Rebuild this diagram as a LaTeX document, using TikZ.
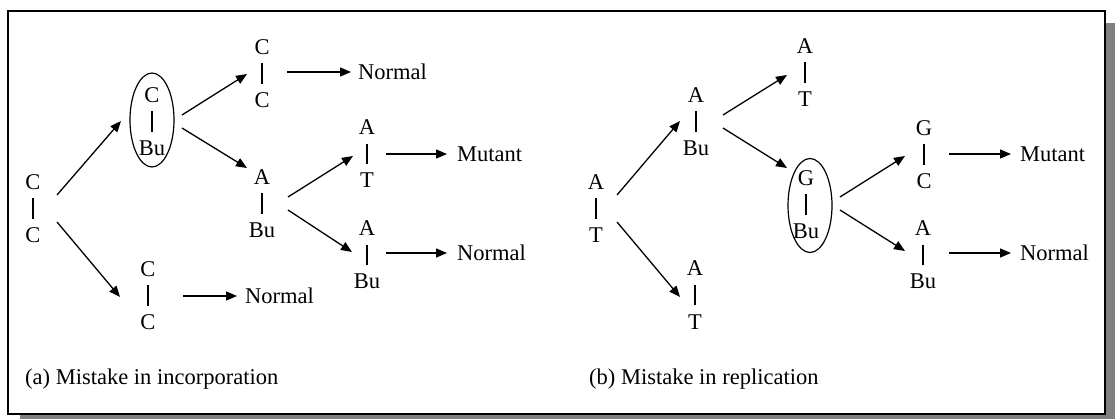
\documentclass[tikz,border=0pt]{standalone}
\usepackage{fontspec}
\setmainfont{Liberation Serif}
\usetikzlibrary{arrows.meta,shapes.geometric}
\newcommand\bpair[5]{%
  \coordinate (#1) at (#2,#3);
  \node[base] (#1t) at (#2,#3-26.5) {#4};
  \node[base] (#1b) at (#2,#3+26.5) {#5};
  \draw[bar] (#1t.south) -- (#1b.north);
}
\begin{document}
\begin{tikzpicture}[x=1pt,y=-1pt,
  base/.style={font=\fontsize{22.5}{27}\selectfont, text height=15pt, text depth=0pt, inner xsep=1pt, inner ysep=8.5pt},
  lbl/.style={base, anchor=west, inner sep=0pt},
  captxt/.style={font=\fontsize{22.5}{27}\selectfont, anchor=base west, inner sep=0pt},
  bar/.style={line width=1.3pt},
  arr/.style={line width=1.3pt, -{Triangle[length=11pt,width=9pt]}},
  ring/.style={draw, ellipse, line width=1.2pt, minimum width=44pt, minimum height=94pt, inner sep=0pt},
]
\useasboundingbox (0,0) rectangle (1115,419);
% frame with shadow
\fill[gray] (20,23) rectangle (1115,419);
\filldraw[fill=white, draw=black, line width=2pt] (7.5,11) rectangle (1105,413.5);

% ---------- (a) ----------
\bpair{r1}{33}{208.5}{C}{C}
\bpair{e1}{152}{121.5}{C}{Bu}
\node[ring] (e1ring) at (152,120) {};
\bpair{t1}{262}{73.5}{C}{C}
\bpair{m1}{262}{203.5}{A}{Bu}
\bpair{u1}{367}{154}{A}{T}
\bpair{d1}{367}{255}{A}{Bu}
\bpair{b1}{148}{295.5}{C}{C}

\node[lbl] (n1) at (358,72) {Normal};
\node[lbl] (n2) at (457,154) {Mutant};
\node[lbl] (n3) at (457,253) {Normal};
\node[lbl] (n4) at (245,296) {Normal};

\draw[arr] ([shift={(24,-13.5)}]r1) -- ([shift={(-31,1)}]e1ring.center);
\draw[arr] ([shift={(24,13.5)}]r1) -- ([shift={(-28,1.5)}]b1);
\draw[arr] ([shift={(30,-5)}]e1ring.center) -- ([shift={(-15,0.5)}]t1);
\draw[arr] ([shift={(30,8)}]e1ring.center) -- ([shift={(-15,-35.5)}]m1);
\draw[arr] ([shift={(26,-6.5)}]m1) -- ([shift={(-14,2)}]u1);
\draw[arr] ([shift={(26,6.5)}]m1) -- ([shift={(-15,-3)}]d1);

\draw[arr] ([shift={(25,-1.5)}]t1) -- ([xshift=-7pt]n1.west);
\draw[arr] ([shift={(19,0)}]u1) -- ([xshift=-10pt]n2.west);
\draw[arr] ([shift={(19,-2)}]d1) -- ([xshift=-10pt]n3.west);
\draw[arr] ([shift={(35,0.5)}]b1) -- ([xshift=-8pt]n4.west);

\node[captxt] (c1) at (25,384.5) {(a) Mistake in incorporation};

% ---------- (b) ----------
\bpair{r2}{596}{208.5}{A}{T}
\bpair{a2}{696}{121.5}{A}{Bu}
\bpair{t2}{805}{72.5}{A}{T}
\bpair{e2}{806}{204.5}{G}{Bu}
\node[ring] (e2ring) at (810,205.5) {};
\bpair{g2}{924}{154.5}{G}{C}
\bpair{d2}{923}{255}{A}{Bu}
\bpair{b2}{695}{295}{A}{T}

\node[lbl] (n5) at (1020,154) {Mutant};
\node[lbl] (n6) at (1020,253) {Normal};

\draw[arr] ([shift={(21,-13.5)}]r2) -- ([shift={(-16,-0.5)}]a2);
\draw[arr] ([shift={(21,13.5)}]r2) -- ([shift={(-15,2)}]b2);
\draw[arr] ([shift={(27,-6.5)}]a2) -- ([shift={(-18,2.5)}]t2);
\draw[arr] ([shift={(27,6.5)}]a2) -- ([shift={(-23,-37.5)}]e2ring.center);
\draw[arr] ([shift={(30,-8.5)}]e2ring.center) -- ([shift={(-19,1.5)}]g2);
\draw[arr] ([shift={(30,4.5)}]e2ring.center) -- ([shift={(-18,-4)}]d2);

\draw[arr] ([shift={(25,-0.5)}]g2) -- ([xshift=-9pt]n5.west);
\draw[arr] ([shift={(26,-2)}]d2) -- ([xshift=-9pt]n6.west);

\node[captxt] (c2) at (589,384.5) {(b) Mistake in replication};
\end{tikzpicture}
\end{document}
